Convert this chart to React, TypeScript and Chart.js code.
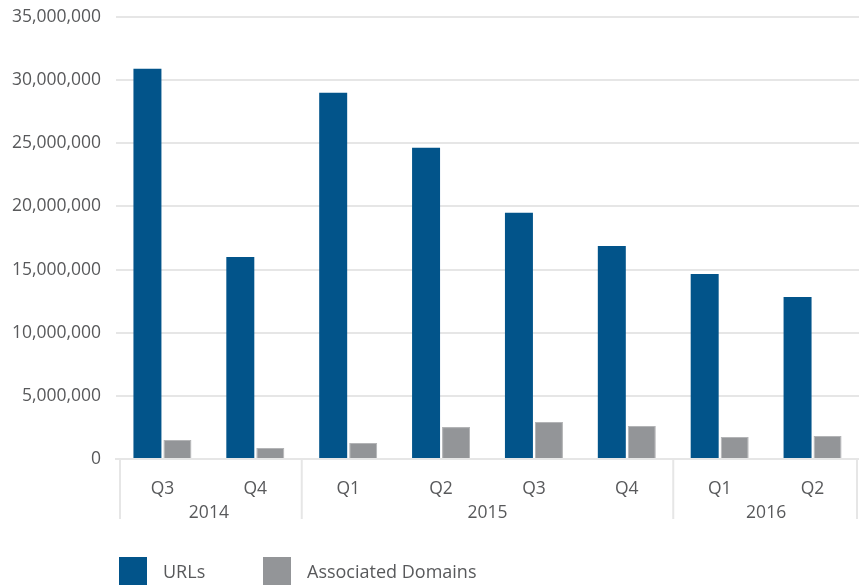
import React, { useEffect, useRef } from "react";
import { Chart, registerables } from "chart.js";

Chart.register(...registerables);

const quarters = ["Q3", "Q4", "Q1", "Q2", "Q3", "Q4", "Q1", "Q2"];
const years = ["2014", "2014", "2015", "2015", "2015", "2015", "2016", "2016"];
const urls = [30900000, 16000000, 29000000, 24650000, 19500000, 16870000, 14650000, 12830000];
const domains = [1500000, 870000, 1270000, 2530000, 2930000, 2610000, 1740000, 1820000];
const seriesNames = ["URLs", "Associated Domains"];
const seriesColors = ["#02548a", "#939598"];

const TEXT = "#58595b";
const FONT = '"Open Sans", sans-serif';
const GRID = "#e6e6e6";

const groupPlugin = {
  id: "groupPlugin",
  afterDraw(chart: any) {
    const ctx = chart.ctx;
    const xs = chart.scales.x;
    const area = chart.chartArea;
    const half = (xs.getPixelForValue(1) - xs.getPixelForValue(0)) / 2;
    const groups: { label: string; start: number; end: number }[] = [];
    years.forEach((y, i) => {
      const g = groups[groups.length - 1];
      if (g && g.label === y) g.end = i;
      else groups.push({ label: y, start: i, end: i });
    });
    ctx.save();
    ctx.strokeStyle = GRID;
    ctx.lineWidth = 2;
    const bounds: number[] = [];
    groups.forEach((g, k) => {
      if (k === 0) bounds.push(xs.getPixelForValue(g.start) - half);
      bounds.push(xs.getPixelForValue(g.end) + half);
    });
    bounds.forEach((b) => {
      const xx = Math.min(Math.max(b, area.left + 4), area.right - 2);
      ctx.beginPath();
      ctx.moveTo(xx, area.bottom);
      ctx.lineTo(xx, area.bottom + 60);
      ctx.stroke();
    });
    ctx.fillStyle = TEXT;
    ctx.font = `17.5px ${FONT}`;
    ctx.textAlign = "center";
    ctx.textBaseline = "middle";
    groups.forEach((g) => {
      const l = xs.getPixelForValue(g.start) - half;
      const r = xs.getPixelForValue(g.end) + half;
      ctx.fillText(g.label, (l + r) / 2, area.bottom + 54);
    });
    ctx.restore();
  },
};

export default function App() {
  const ref = useRef<HTMLCanvasElement | null>(null);

  useEffect(() => {
    document.body.style.margin = "0";
    const chart = new Chart(ref.current as HTMLCanvasElement, {
      type: "bar",
      data: {
        labels: quarters,
        datasets: [
          {
            label: seriesNames[0],
            data: urls,
            backgroundColor: seriesColors[0],
            barPercentage: 0.933,
            categoryPercentage: 0.646,
          },
          {
            label: seriesNames[1],
            data: domains,
            backgroundColor: seriesColors[1],
            borderColor: "#b3b4b6",
            borderWidth: 1,
            barPercentage: 0.933,
            categoryPercentage: 0.646,
          },
        ],
      },
      options: {
        animation: false,
        responsive: false,
        maintainAspectRatio: false,
        layout: { padding: { top: 17, left: 0, right: 0, bottom: 0 } },
        plugins: {
          legend: { display: false },
          tooltip: { enabled: false },
        },
        scales: {
          x: {
            afterFit: (s: any) => {
              s.height = 127;
              s.paddingLeft = 0;
              s.paddingRight = 0;
            },
            grid: { display: false, drawTicks: false },
            border: { display: true, color: GRID, width: 2 },
            ticks: {
              color: TEXT,
              font: { family: FONT, size: 17.5 },
              padding: 20,
            },
          },
          y: {
            min: 0,
            max: 35000000,
            afterFit: (s: any) => {
              s.width = 116;
              s.paddingTop = 0;
              s.paddingBottom = 0;
            },
            grid: { color: GRID, lineWidth: 2, drawTicks: false },
            border: { display: false },
            ticks: {
              stepSize: 5000000,
              color: TEXT,
              font: { family: FONT, size: 17.5 },
              padding: 15,
              callback: (v: any) => Number(v).toLocaleString("en-US"),
            },
          },
        },
      },
      plugins: [groupPlugin],
    } as any);
    return () => chart.destroy();
  }, []);

  const legendItem = (name: string, color: string, left: number) => (
    <div
      key={name}
      style={{
        position: "absolute",
        left,
        top: 557,
        display: "flex",
        alignItems: "center",
        height: 28,
      }}
    >
      <div style={{ width: 28, height: 28, background: color }} />
      <span
        style={{
          marginLeft: 16,
          fontFamily: FONT,
          fontSize: 18,
          color: TEXT,
          whiteSpace: "nowrap",
        }}
      >
        {name}
      </span>
    </div>
  );

  return (
    <div style={{ position: "absolute", left: 0, top: 0, width: 859, height: 586, overflow: "hidden", background: "#fff" }}>
      <canvas ref={ref} width={859} height={586} style={{ display: "block" }} />
      {legendItem(seriesNames[0], seriesColors[0], 119)}
      {legendItem(seriesNames[1], seriesColors[1], 263)}
    </div>
  );
}
